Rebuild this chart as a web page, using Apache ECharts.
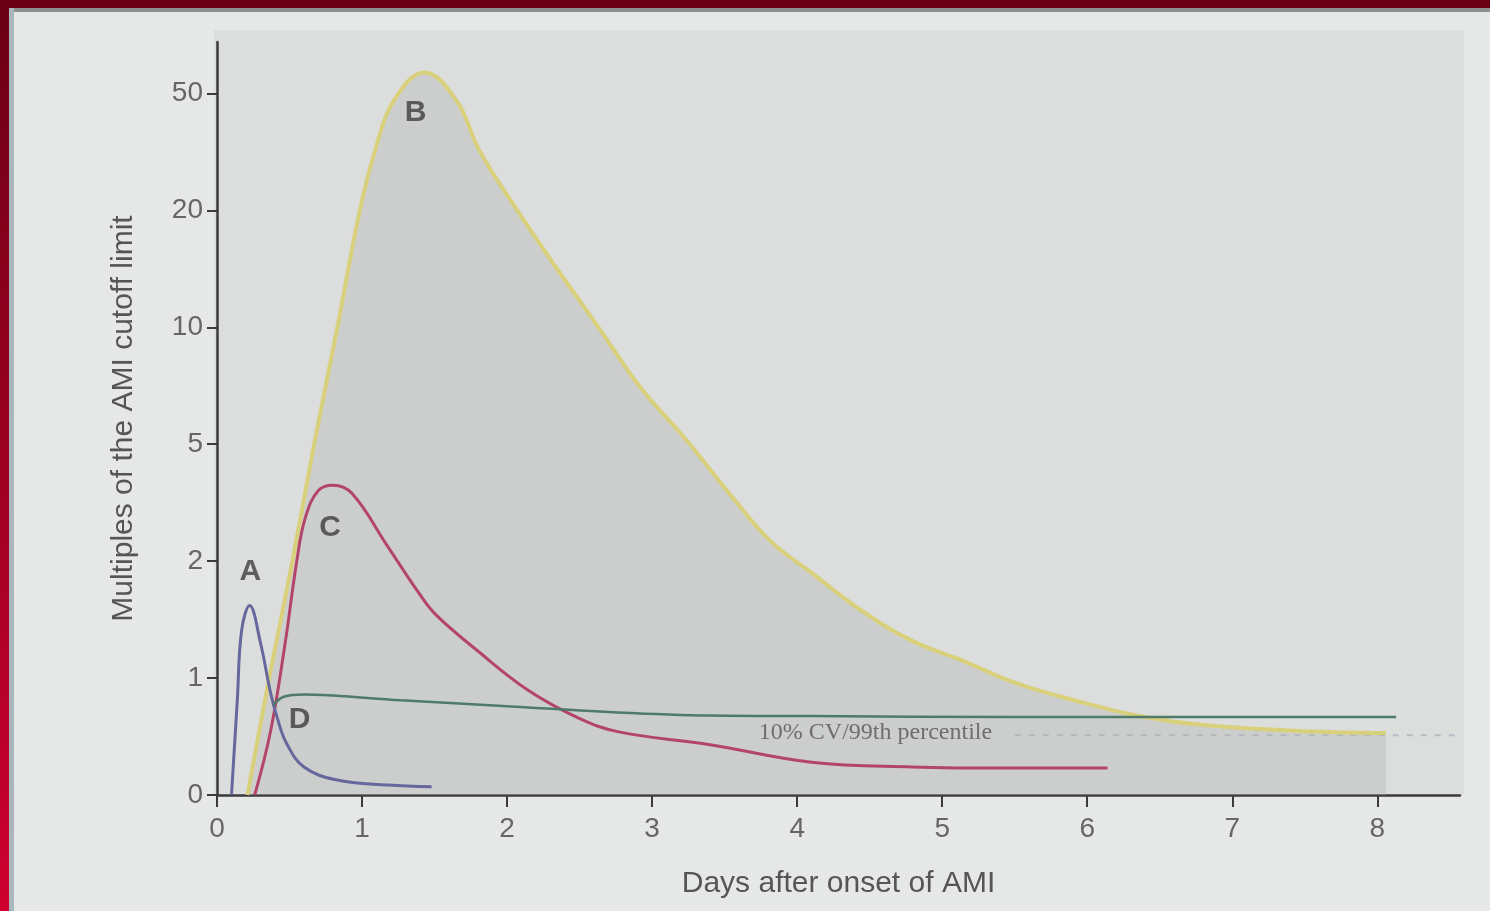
<!DOCTYPE html>
<html>
<head>
<meta charset="utf-8">
<script src="https://cdn.jsdelivr.net/npm/echarts@6/dist/echarts.min.js"></script>
<style>
html,body{margin:0;padding:0;background:#e6e8e7;}
#chart{width:1490px;height:911px;}
</style>
</head>
<body>
<div id="chart"></div>
<script>
// ---- Data (days after onset, multiples of cutoff) ----
const yTickValues = [0, 1, 2, 5, 10, 20, 50];
const xTickValues = [0, 1, 2, 3, 4, 5, 6, 7, 8];

const bDays = [0.21, 0.36, 0.52, 0.67, 0.83, 0.985, 1.09, 1.22, 1.43, 1.65, 1.81, 2.07, 2.35, 2.63, 2.91, 3.26, 3.54, 3.82, 4.10, 4.44, 4.79, 5.14, 5.48, 5.91, 6.34, 6.78, 7.42, 8.06];
const bVals = [0, 1, 2, 5, 10, 20, 35.3, 48.2, 55.4, 48.2, 35.3, 20, 14.9, 10, 7.5, 5, 3.7, 2.5, 1.9, 1.58, 1.32, 1.15, 0.97, 0.81, 0.68, 0.60, 0.55, 0.53];

const cDays = [0.26, 0.37, 0.47, 0.55, 0.61, 0.70, 0.80, 0.93, 1.18, 1.39, 1.51, 1.79, 2.14, 2.49, 2.77, 3.40, 4.10, 4.79, 5.48, 6.14];
const cVals = [0, 0.55, 1.3, 2.0, 3.13, 3.82, 3.95, 3.74, 2.36, 1.73, 1.54, 1.24, 0.90, 0.66, 0.54, 0.43, 0.28, 0.24, 0.23, 0.23];

const aDays = [0.10, 0.14, 0.17, 0.225, 0.30, 0.37, 0.42, 0.48, 0.60, 0.82, 1.18, 1.48];
const aVals = [0, 0.81, 1.41, 1.62, 1.30, 0.87, 0.64, 0.44, 0.24, 0.13, 0.085, 0.07];

const dDays = [0.39, 0.46, 0.60, 0.80, 1.27, 2.0, 2.7, 3.4, 4.1, 5.48, 6.5, 7.5, 8.13];
const dVals = [0.77, 0.84, 0.86, 0.85, 0.81, 0.76, 0.71, 0.68, 0.675, 0.667, 0.667, 0.667, 0.667];

const cvDays = [5.5, 8.55];
const cvVals = [0.51, 0.51];

const labelNames = ['A', 'B', 'C', 'D'];
const labelDays = [0.23, 1.37, 0.78, 0.57];
const labelVals = [1.91, 45, 2.87, 0.64];

const cvLabel = '10% CV/99th percentile';
const cvLabelDay = 4.54;
const cvLabelVal = 0.53;

// ---- y-scale: evenly spaced ticks 0,1,2,5,10,20,50 ----
function toIdx(v) {
  for (let i = 0; i < yTickValues.length - 1; i++) {
    if (v <= yTickValues[i + 1]) {
      return i + (v - yTickValues[i]) / (yTickValues[i + 1] - yTickValues[i]);
    }
  }
  const n = yTickValues.length - 1;
  return n + (v - yTickValues[n]) / (yTickValues[n] - yTickValues[n - 1]);
}
function pts(xs, ys) { return xs.map((x, i) => [x, toIdx(ys[i])]); }

const chart = echarts.init(document.getElementById('chart'));
const font = "'Liberation Sans', Arial, sans-serif";

chart.setOption({
  backgroundColor: '#e6e8e7',
  animation: false,
  graphic: [
    { type: 'rect', shape: { x: 214, y: 30, width: 1250, height: 765 }, style: { fill: '#dcdedd' }, z: -10, silent: true },
    { type: 'rect', shape: { x: 0, y: 0, width: 1490, height: 8 }, style: { fill: '#6a0014' }, z: 100, silent: true },
    { type: 'rect', shape: { x: 9, y: 8, width: 1481, height: 4 }, style: { fill: '#8e8f8f' }, z: 100, silent: true },
    { type: 'rect', shape: { x: 9, y: 8, width: 5, height: 903 }, style: { fill: '#a9b7bd' }, z: 100, silent: true },
    { type: 'rect', shape: { x: 0, y: 0, width: 9, height: 911 },
      style: { fill: new echarts.graphic.LinearGradient(0, 0, 0, 1, [{ offset: 0, color: '#6a0014' }, { offset: 1, color: '#cf0030' }]) }, z: 100, silent: true }
  ],
  grid: { left: 217, right: 30, top: 42, bottom: 116, containLabel: false },
  xAxis: {
    type: 'value', min: 0, max: 8.57,
    name: 'Days after onset of AMI', nameLocation: 'middle', nameGap: 74,
    nameTextStyle: { fontFamily: font, fontSize: 30, color: '#555' },
    axisLine: { show: true, lineStyle: { color: '#3a3a3a', width: 2.5 } },
    axisTick: { show: true, length: 12, customValues: xTickValues, lineStyle: { color: '#3a3a3a', width: 2 } },
    axisLabel: { customValues: xTickValues, margin: 20, fontFamily: font, fontSize: 28, color: '#666' },
    splitLine: { show: false }
  },
  yAxis: {
    type: 'value', min: 0, max: 6.44,
    name: 'Multiples of the AMI cutoff limit', nameLocation: 'middle', nameGap: 78, nameRotate: 90,
    nameTextStyle: { fontFamily: font, fontSize: 30, color: '#555' },
    axisLine: { show: true, lineStyle: { color: '#3a3a3a', width: 2.5 } },
    axisTick: { show: true, length: 10, customValues: [0, 1, 2, 3, 4, 5, 6], lineStyle: { color: '#3a3a3a', width: 2 } },
    axisLabel: { customValues: [0, 1, 2, 3, 4, 5, 6], margin: 14, fontFamily: font, fontSize: 28, color: '#666',
      formatter: v => { const i = Math.round(v); return yTickValues[i] !== undefined ? String(yTickValues[i]) : ''; } },
    splitLine: { show: false }
  },
  series: [
    { name: 'B', type: 'line', data: pts(bDays, bVals), smooth: 0.4, showSymbol: false,
      lineStyle: { color: '#d9d07c', width: 4 }, areaStyle: { color: 'rgba(170,172,174,0.45)' }, z: 2 },
    { name: 'cv', type: 'line', data: pts(cvDays, cvVals), showSymbol: false,
      lineStyle: { color: '#b6bcc4', width: 2, type: [6, 8] }, z: 1 },
    { name: 'C', type: 'line', data: pts(cDays, cVals), smooth: 0.4, showSymbol: false,
      lineStyle: { color: '#b4456a', width: 3 }, z: 3 },
    { name: 'A', type: 'line', data: pts(aDays, aVals), smooth: 0.4, showSymbol: false,
      lineStyle: { color: '#66679c', width: 3 }, z: 4 },
    { name: 'D', type: 'line', data: pts(dDays, dVals), smooth: 0.4, showSymbol: false,
      lineStyle: { color: '#4e7a68', width: 2.5 }, z: 4 },
    { name: 'labels', type: 'scatter', symbolSize: 0, z: 10,
      data: labelNames.map((n, i) => ({ value: [labelDays[i], toIdx(labelVals[i])], name: n }))
        .concat([{ value: [cvLabelDay, toIdx(cvLabelVal)], name: cvLabel,
          label: { fontFamily: "'Liberation Serif', serif", fontSize: 24, fontWeight: 'normal', color: '#555' } }]),
      label: { show: true, position: 'inside', formatter: p => p.name,
        fontFamily: font, fontSize: 30, fontWeight: 'bold', color: '#3d3d3d' } }
  ]
});
</script>
</body>
</html>
